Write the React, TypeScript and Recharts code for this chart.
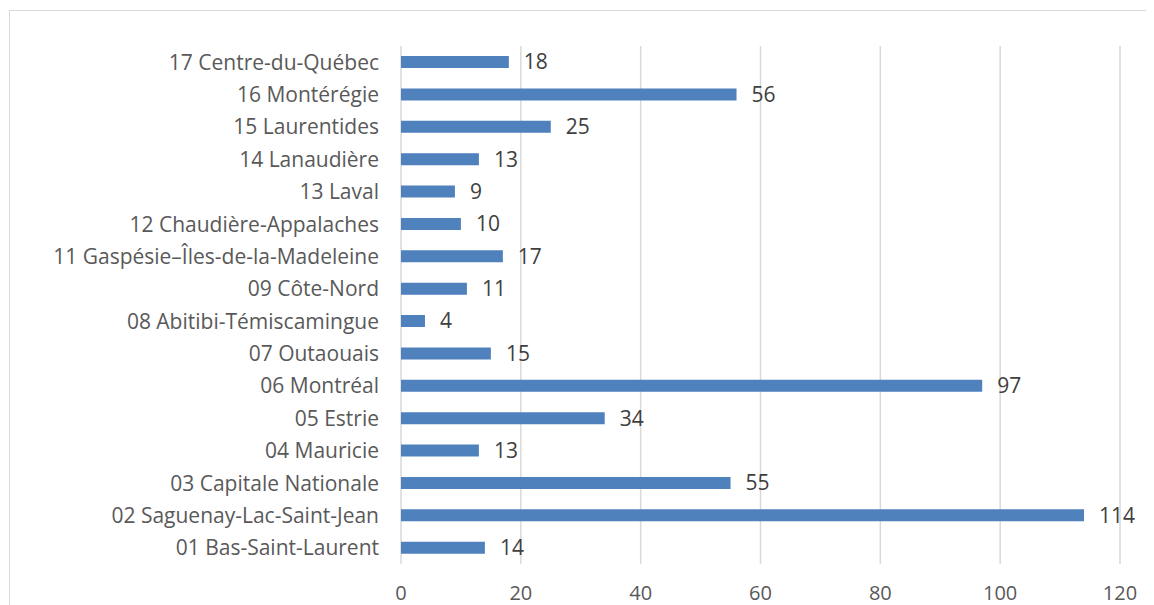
import { Bar, BarChart, CartesianGrid, LabelList, XAxis, YAxis } from "recharts";

const regions = [
  "17 Centre-du-Québec",
  "16 Montérégie",
  "15 Laurentides",
  "14 Lanaudière",
  "13 Laval",
  "12 Chaudière-Appalaches",
  "11 Gaspésie–Îles-de-la-Madeleine",
  "09 Côte-Nord",
  "08 Abitibi-Témiscamingue",
  "07 Outaouais",
  "06 Montréal",
  "05 Estrie",
  "04 Mauricie",
  "03 Capitale Nationale",
  "02 Saguenay-Lac-Saint-Jean",
  "01 Bas-Saint-Laurent",
];
const counts = [18, 56, 25, 13, 9, 10, 17, 11, 4, 15, 97, 34, 13, 55, 114, 14];
const xTicks = [0, 20, 40, 60, 80, 100, 120];

const FONT = "'Open Sans', sans-serif";

export default function App() {
  const data = regions.map((name, i) => ({ name, value: counts[i] }));

  return (
    <div style={{ position: "relative", width: 1146, height: 597, overflow: "hidden", fontFamily: FONT }}>
      <div
        style={{
          position: "absolute",
          left: 1,
          top: 2,
          width: 1200,
          height: 700,
          borderLeft: "1px solid #d9d9d9",
          borderTop: "1px solid #d9d9d9",
        }}
      />
      <BarChart
        width={1146}
        height={597}
        data={data}
        layout="vertical"
        margin={{ top: 38, right: 34, left: 0, bottom: 0 }}
        barCategoryGap={0}
      >
        <CartesianGrid horizontal={false} stroke="#d9d9d9" strokeWidth={1.5} />
        <XAxis
          type="number"
          domain={[0, 120]}
          ticks={xTicks}
          axisLine={false}
          tickLine={false}
          tickMargin={16}
          height={41}
          tick={{ fill: "#595959", fontSize: 20, fontFamily: FONT }}
          interval={0}
        />
        <YAxis
          type="category"
          dataKey="name"
          width={393}
          axisLine={false}
          tickLine={false}
          tickMargin={16}
          interval={0}
          tick={{ fill: "#595959", fontSize: 21, fontFamily: FONT }}
        />
        <Bar dataKey="value" fill="#4f81bd" barSize={12} isAnimationActive={false}>
          <LabelList
            dataKey="value"
            position="right"
            offset={15}
            style={{ fill: "#404040", fontSize: 21, fontFamily: FONT }}
          />
        </Bar>
      </BarChart>
    </div>
  );
}
